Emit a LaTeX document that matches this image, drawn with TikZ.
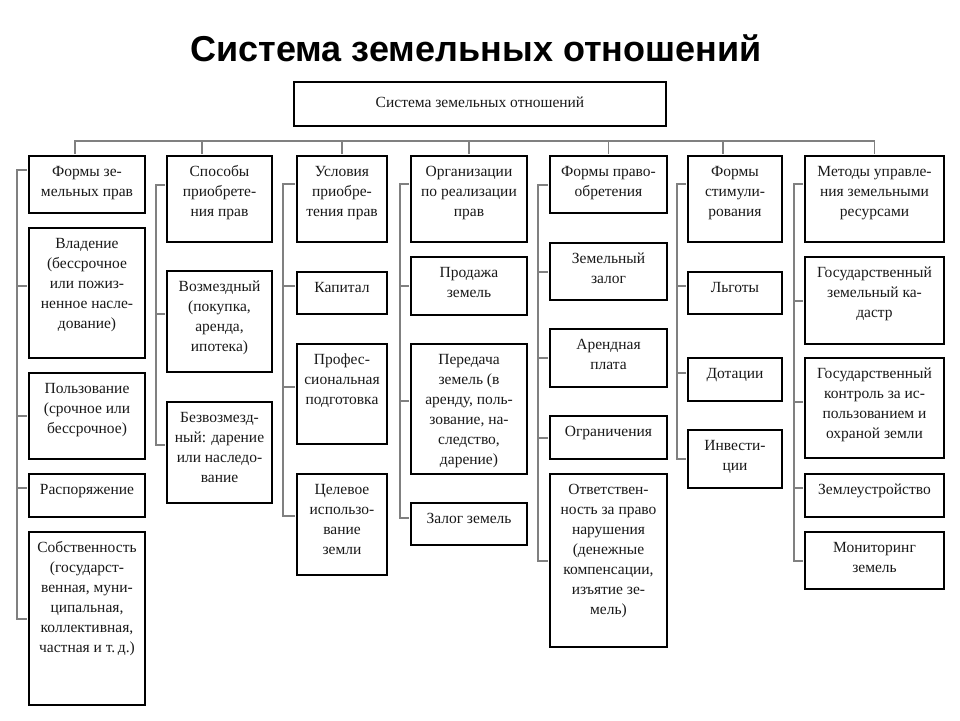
\documentclass[tikz,border=0pt]{standalone}
\usepackage{fontspec}
\setmainfont{Liberation Serif}
\newfontfamily\headfont{Liberation Sans}
\tikzset{
  box/.style={draw=black, line width=2.4pt, anchor=north, inner sep=0pt},
  txt/.style={anchor=north, align=center, inner sep=0pt, text=black!90,
    font=\fontsize{15.5}{20}\selectfont},
  link/.style={draw=black!50, line width=1.8pt, shorten <=1.2pt}
}
\begin{document}
\begin{tikzpicture}[x=1pt, y=-1pt]
    \fill[white] (0,0) rectangle (960,720);
    \useasboundingbox (0,0) rectangle (960,720);

    % Title
    \node[font=\headfont\bfseries\fontsize{36}{40}\selectfont] (title) at (476,48) {Система земельных отношений};
    \node[box, anchor=center, minimum width=372pt, minimum height=44pt, text=black!90,
      font=\fontsize{15.5}{20}\selectfont] (sys) at (480,104) {\raisebox{3pt}{Система земельных отношений}};

    % Column 1
    \node[box, minimum width=116pt, minimum height=57pt] (h1) at (87,155) {};
    \node[txt] (h1t) at (87,162) {\strut Формы зе-\\мельных прав};
    \node[box, minimum width=116pt, minimum height=130pt] (c1a) at (87,227) {};
    \node[txt] (c1at) at (87,234) {\strut Владение\\(бессрочное\\или пожиз-\\ненное насле-\\дование)};
    \node[box, minimum width=116pt, minimum height=86pt] (c1b) at (87,372) {};
    \node[txt] (c1bt) at (87,379) {\strut Пользование\\(срочное или\\бессрочное)};
    \node[box, minimum width=116pt, minimum height=43pt] (c1c) at (87,473) {};
    \node[txt] (c1ct) at (87,480) {\strut Распоряжение};
    \node[box, minimum width=116pt, minimum height=173pt] (c1d) at (87,531) {};
    \node[txt] (c1dt) at (87,538) {\strut Собственность\\(государст-\\венная, муни-\\ципальная,\\коллективная,\\частная и т.\,д.)};

    % Column 2
    \node[box, minimum width=105pt, minimum height=86pt] (h2) at (219.5,155) {};
    \node[txt] (h2t) at (219.5,162) {\strut Способы\\приобрете-\\ния прав};
    \node[box, minimum width=105pt, minimum height=101pt] (c2a) at (219.5,270) {};
    \node[txt] (c2at) at (219.5,277) {\strut Возмездный\\(покупка,\\аренда,\\ипотека)};
    \node[box, minimum width=105pt, minimum height=101pt] (c2b) at (219.5,401) {};
    \node[txt] (c2bt) at (219.5,408) {\strut Безвозмезд-\\ный: дарение\\или наследо-\\вание};

    % Column 3
    \node[box, minimum width=90pt, minimum height=86pt] (h3) at (342,155) {};
    \node[txt] (h3t) at (342,162) {\strut Условия\\приобре-\\тения прав};
    \node[box, minimum width=90pt, minimum height=42pt] (c3a) at (342,271) {};
    \node[txt] (c3at) at (342,278) {\strut Капитал};
    \node[box, minimum width=90pt, minimum height=100pt] (c3b) at (342,343) {};
    \node[txt] (c3bt) at (342,350) {\strut Профес-\\сиональная\\подготовка};
    \node[box, minimum width=90pt, minimum height=101pt] (c3c) at (342,473) {};
    \node[txt] (c3ct) at (342,480) {\strut Целевое\\использо-\\вание\\земли};

    % Column 4
    \node[box, minimum width=116pt, minimum height=86pt] (h4) at (469,155) {};
    \node[txt] (h4t) at (469,162) {\strut Организации\\по реализации\\прав};
    \node[box, minimum width=116pt, minimum height=58pt] (c4a) at (469,256) {};
    \node[txt] (c4at) at (469,263) {\strut Продажа\\земель};
    \node[box, minimum width=116pt, minimum height=130pt] (c4b) at (469,343) {};
    \node[txt] (c4bt) at (469,350) {\strut Передача\\земель (в\\аренду, поль-\\зование, на-\\следство,\\дарение)};
    \node[box, minimum width=116pt, minimum height=42pt] (c4c) at (469,502) {};
    \node[txt] (c4ct) at (469,509) {\strut Залог земель};

    % Column 5
    \node[box, minimum width=117pt, minimum height=57pt] (h5) at (608.5,155) {};
    \node[txt] (h5t) at (608.5,162) {\strut Формы право-\\обретения};
    \node[box, minimum width=117pt, minimum height=57pt] (c5a) at (608.5,242) {};
    \node[txt] (c5at) at (608.5,249) {\strut Земельный\\залог};
    \node[box, minimum width=117pt, minimum height=58pt] (c5b) at (608.5,328) {};
    \node[txt] (c5bt) at (608.5,335) {\strut Арендная\\плата};
    \node[box, minimum width=117pt, minimum height=43pt] (c5c) at (608.5,415) {};
    \node[txt] (c5ct) at (608.5,422) {\strut Ограничения};
    \node[box, minimum width=117pt, minimum height=173pt] (c5d) at (608.5,473) {};
    \node[txt] (c5dt) at (608.5,480) {\strut Ответствен-\\ность за право\\нарушения\\(денежные\\компенсации,\\изъятие зе-\\мель)};

    % Column 6
    \node[box, minimum width=94pt, minimum height=86pt] (h6) at (735,155) {};
    \node[txt] (h6t) at (735,162) {\strut Формы\\стимули-\\рования};
    \node[box, minimum width=94pt, minimum height=42pt] (c6a) at (735,271) {};
    \node[txt] (c6at) at (735,278) {\strut Льготы};
    \node[box, minimum width=94pt, minimum height=43pt] (c6b) at (735,357) {};
    \node[txt] (c6bt) at (735,364) {\strut Дотации};
    \node[box, minimum width=94pt, minimum height=58pt] (c6c) at (735,429) {};
    \node[txt] (c6ct) at (735,436) {\strut Инвести-\\ции};

    % Column 7
    \node[box, minimum width=139pt, minimum height=86pt] (h7) at (874.5,155) {};
    \node[txt] (h7t) at (874.5,162) {\strut Методы управле-\\ния земельными\\ресурсами};
    \node[box, minimum width=139pt, minimum height=87pt] (c7a) at (874.5,256) {};
    \node[txt] (c7at) at (874.5,263) {\strut Государственный\\земельный ка-\\дастр};
    \node[box, minimum width=139pt, minimum height=100pt] (c7b) at (874.5,357) {};
    \node[txt] (c7bt) at (874.5,364) {\strut Государственный\\контроль за ис-\\пользованием и\\охраной земли};
    \node[box, minimum width=139pt, minimum height=43pt] (c7c) at (874.5,473) {};
    \node[txt] (c7ct) at (874.5,480) {\strut Землеустройство};
    \node[box, minimum width=139pt, minimum height=57pt] (c7d) at (874.5,531) {};
    \node[txt] (c7dt) at (874.5,538) {\strut Мониторинг\\земель};

    % Bus to the headers
    \coordinate (bus) at (480,141);
    \foreach \n/\dx in {h1/-12,h2/-17.5,h3/0,h4/0,h5/0,h6/-12,h7/0}
        \draw[link] ([xshift=\dx pt]\n.north) |- (bus);

    % Side brackets
    \coordinate (v1) at (17,400);
    \coordinate (v2) at (156,300);
    \coordinate (v3) at (283,350);
    \coordinate (v4) at (400,350);
    \coordinate (v5) at (538,350);
    \coordinate (v6) at (677,300);
    \coordinate (v7) at (794,350);
    \foreach \n/\dy in {h1/14.5,c1a/7,c1b/0,c1c/7.5,c1d/0}
        \draw[link] ([yshift=\dy pt]\n.west) -| (v1);
    \foreach \n/\dy in {h2/14,c2a/7.5,c2b/7.5}
        \draw[link] ([yshift=\dy pt]\n.west) -| (v2);
    \foreach \n/\dy in {h3/15,c3a/7,c3b/7,c3c/8.5}
        \draw[link] ([yshift=\dy pt]\n.west) -| (v3);
    \foreach \n/\dy in {h4/15,c4a/0,c4b/8,c4c/6}
        \draw[link] ([yshift=\dy pt]\n.west) -| (v4);
    \foreach \n/\dy in {h5/0,c5a/0,c5b/0,c5c/0,c5d/0}
        \draw[link] ([yshift=\dy pt]\n.west) -| (v5);
    \foreach \n/\dy in {h6/15,c6a/7,c6b/6.5,c6c/0}
        \draw[link] ([yshift=\dy pt]\n.west) -| (v6);
    \foreach \n/\dy in {h7/15,c7a/0,c7b/6,c7c/7.5,c7d/0}
        \draw[link] ([yshift=\dy pt]\n.west) -| (v7);
\end{tikzpicture}
\end{document}
